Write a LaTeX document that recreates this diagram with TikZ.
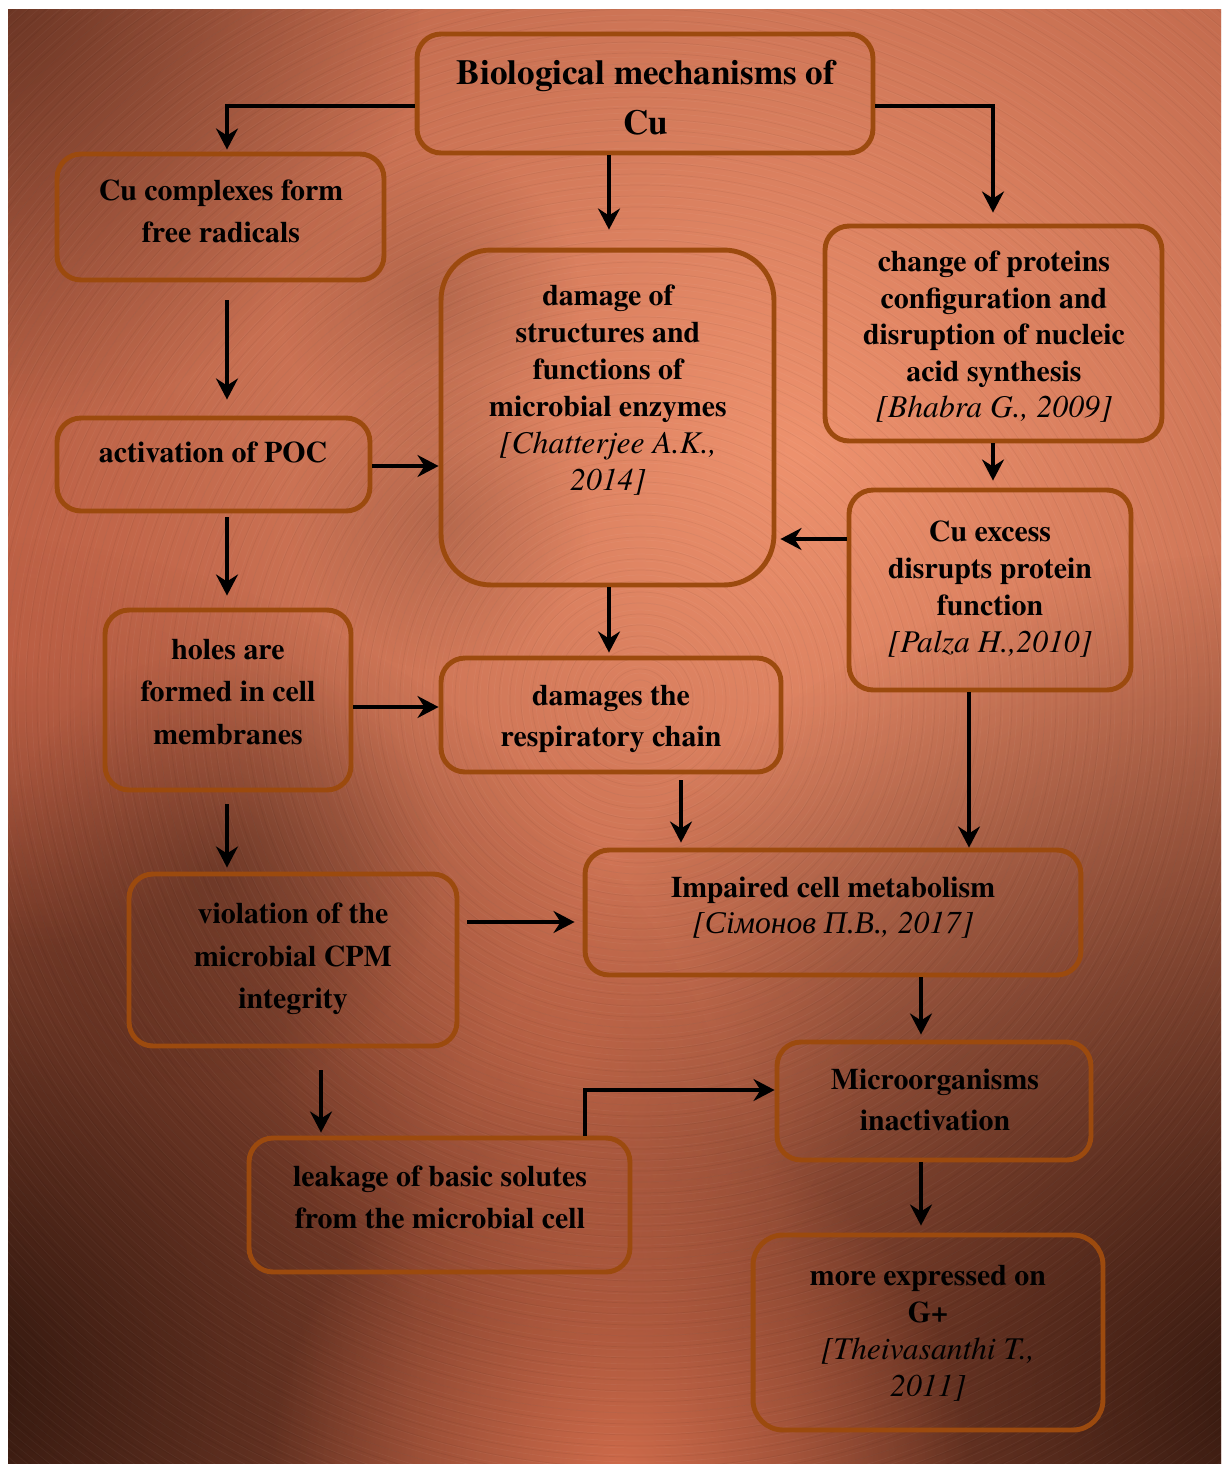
\documentclass[tikz,border=0pt]{standalone}
\usepackage{fontspec}
\setmainfont{texgyretermes}[Extension=.otf, UprightFont=*-regular, BoldFont=*-bold, ItalicFont=*-italic, BoldItalicFont=*-bolditalic]
\newfontfamily\cyrfont{Liberation Serif}
\usetikzlibrary{arrows.meta,calc,fadings}
\definecolor{boxline}{RGB}{156,74,14}
\definecolor{cuBase}{RGB}{176,90,64}
\definecolor{cuMid}{RGB}{238,146,110}
\definecolor{cuBot}{RGB}{220,114,80}
\definecolor{cuLeft}{RGB}{204,102,74}
\definecolor{cuDark}{RGB}{40,18,10}
\tikzfading[name=blob, inner color=transparent!0, outer color=transparent!100]
\newcommand\cit[2]{{\mdseries\itshape\fontsize{18}{#1}\selectfont #2}}
\tikzset{
  bx/.style={draw=boxline, line width=2.8pt, rounded corners=0.48cm, inner sep=0pt},
  arr/.style={-{Stealth[length=12pt,width=12.5pt,inset=4pt]}, line width=2.5pt, black},
  txt/.style={align=center, inner sep=0pt, text=black},
}
\begin{document}
\begin{tikzpicture}[x=0.02cm,y=-0.02cm]
\useasboundingbox (0,0) rectangle (1225,1465);
\fill[white] (0,0) rectangle (1225,1465);
\begin{scope}
  \clip (8,9) rectangle (1221,1463);
  \fill[cuBase] (0,0) rectangle (1225,1465);
  \fill[cuMid, path fading=blob] (800,450) circle[radius=18cm];
  \fill[cuDark, opacity=0.95, path fading=blob] (-60,1380) circle[radius=17cm];
  \fill[cuDark, opacity=0.9, path fading=blob] (1270,1400) circle[radius=17cm];
  \fill[cuBot, opacity=0.85, path fading=blob] (620,1470) circle[radius=7cm];
  \fill[cuBot, opacity=0.45, path fading=blob] (570,1060) circle[radius=6cm];
  \fill[cuLeft, opacity=0.6, path fading=blob] (20,650) circle[radius=6cm];
  \fill[cuDark, opacity=0.5, path fading=blob] (0,0) circle[radius=8.4cm];
  \fill[cuDark, opacity=0.18, path fading=blob] (430,300) circle[radius=3cm];
  \fill[cuDark, opacity=0.18, path fading=blob] (440,520) circle[radius=3cm];
  \fill[cuDark, opacity=0.3, path fading=blob] (220,870) circle[radius=4.4cm];
  \foreach \r in {6,13,...,1500}
    \draw[white, opacity=0.04, line width=0.4pt] (640,700) circle[radius=\r];
  \foreach \r in {9,20,...,1500}
    \draw[black, opacity=0.05, line width=0.4pt] (640,700) circle[radius=\r];
\end{scope}

% helper coordinates
\coordinate (xL) at (227,0);
\coordinate (xM) at (609,0);
\coordinate (xR) at (993,0);
\coordinate (x681) at (681,0);
\coordinate (x969) at (969,0);
\coordinate (x921) at (921,0);
\coordinate (x321) at (321,0);
\coordinate (x585) at (585,0);
\coordinate (r106) at (0,106);
\coordinate (r466) at (0,466);
\coordinate (r539) at (0,539);
\coordinate (r707) at (0,707);
\coordinate (r922) at (0,922);
\coordinate (r1090) at (0,1090);

% boxes
\node[bx, minimum width=9.12cm, minimum height=2.38cm] (b1) at (645,93.5) {};
\node[bx, minimum width=6.54cm, minimum height=2.52cm] (b2) at (220.5,217) {};
\node[bx, rounded corners=1.0cm, minimum width=6.66cm, minimum height=6.70cm] (b3) at (607.5,417.5) {};
\node[bx, minimum width=6.74cm, minimum height=4.30cm] (b4) at (993.5,333.5) {};
\node[bx, minimum width=6.26cm, minimum height=1.86cm] (b5) at (213.5,464.5) {};
\node[bx, minimum width=5.64cm, minimum height=4.00cm] (b6) at (990,590) {};
\node[bx, minimum width=4.92cm, minimum height=3.60cm] (b7) at (228,700) {};
\node[bx, minimum width=6.80cm, minimum height=2.28cm] (b8) at (611,715) {};
\node[bx, minimum width=6.56cm, minimum height=3.44cm] (b9) at (293,960) {};
\node[bx, minimum width=9.92cm, minimum height=2.50cm] (b10) at (833,912.5) {};
\node[bx, minimum width=6.28cm, minimum height=2.36cm] (b11) at (934,1101) {};
\node[bx, minimum width=7.62cm, minimum height=2.68cm] (b12) at (439.5,1205) {};
\node[bx, rounded corners=0.6cm, minimum width=7.00cm, minimum height=3.90cm] (b13) at (928,1332.5) {};

% texts
\node[txt, font=\fontsize{20}{28.3}\selectfont\bfseries] (t1) at (646,98) {Biological mechanisms of\\Cu};
\node[txt, font=\fontsize{17}{23.8}\selectfont\bfseries] (t2) at (221,211) {Cu complexes form\\free radicals};
\node[txt, font=\fontsize{17}{21}\selectfont\bfseries] (t3) at (608,390) {damage of\\structures and\\functions of\\microbial enzymes\\\cit{21}{[Chatterjee A.K.,}\\\cit{21}{2014]}};
\node[txt, font=\fontsize{17}{20.8}\selectfont\bfseries] (t4) at (994,337) {change of proteins\\configuration and\\disruption of nucleic\\acid synthesis\\\cit{20.8}{[Bhabra G., 2009]}};
\node[txt, font=\fontsize{17}{23.8}\selectfont\bfseries] (t5) at (213,452) {activation of POC};
\node[txt, font=\fontsize{17}{21}\selectfont\bfseries] (t6) at (990,589) {Cu excess\\disrupts protein\\function\\\cit{21}{[Palza H.,2010]}};
\node[txt, font=\fontsize{17}{24.1}\selectfont\bfseries] (t7) at (228,692) {holes are\\formed in cell\\membranes};
\node[txt, font=\fontsize{17}{23.8}\selectfont\bfseries] (t8) at (611,719) {damages the\\respiratory chain};
\node[txt, font=\fontsize{17}{24.1}\selectfont\bfseries] (t9) at (293,959) {violation of the\\microbial CPM\\integrity};
\node[txt, font=\fontsize{17}{20.4}\selectfont\bfseries] (t10) at (833,907.5) {Impaired cell metabolism\\\cit{20.4}{[{\cyrfont Сімонов П.В.}, 2017]}};
\node[txt, font=\fontsize{17}{23.8}\selectfont\bfseries] (t11) at (935,1100) {Microorganisms\\inactivation};
\node[txt, font=\fontsize{17}{23.8}\selectfont\bfseries] (t12) at (440,1197) {leakage of basic solutes\\from the microbial cell};
\node[txt, font=\fontsize{17}{21}\selectfont\bfseries] (t13) at (928,1333) {more expressed on\\G+\\\cit{21}{[Theivasanthi T.,}\\\cit{21}{2011]}};

% connectors
\draw[arr, shorten >=0.04cm] (b1.west |- r106) -| (b2.north -| xL);
\draw[arr, shorten >=0.36cm] (b1.south -| xM) -- (b3.north -| xM);
\draw[arr, shorten >=0.22cm] (b1.east |- r106) -| (b4.north -| xR);
\draw[arr, shorten <=0.36cm, shorten >=0.32cm] (b2.south -| xL) -- (b5.north -| xL);
\draw[arr] (b5.east |- r466) -- (b3.west |- r466);
\draw[arr, shorten <=0.08cm, shorten >=0.24cm] (b5.south -| xL) -- (b7.north -| xL);
\draw[arr, shorten >=0.14cm] (b4.south -| xR) -- (b6.north -| xR);
\draw[arr, shorten >=0.08cm] (b6.west |- r539) -- (b3.east |- r539);
\draw[arr, shorten >=0.06cm] (b3.south -| xM) -- (b8.north -| xM);
\draw[arr] (b7.east |- r707) -- (b8.west |- r707);
\draw[arr, shorten <=0.24cm, shorten >=0.08cm] (b7.south -| xL) -- (b9.north -| xL);
\draw[arr, shorten <=0.12cm, shorten >=0.1cm] (b8.south -| x681) -- (b10.north -| x681);
\draw[arr] (b6.south -| x969) -- (b10.north -| x969);
\draw[arr, shorten <=0.16cm, shorten >=0.16cm] (b9.east |- r922) -- (b10.west |- r922);
\draw[arr, shorten >=0.1cm] (b10.south -| x921) -- (b11.north -| x921);
\draw[arr, shorten <=0.44cm, shorten >=0.06cm] (b9.south -| x321) -- (b12.north -| x321);
\draw[arr] (b12.north -| x585) |- (b11.west |- r1090);
\draw[arr, shorten >=0.14cm] (b11.south -| x921) -- (b13.north -| x921);
\end{tikzpicture}
\end{document}
